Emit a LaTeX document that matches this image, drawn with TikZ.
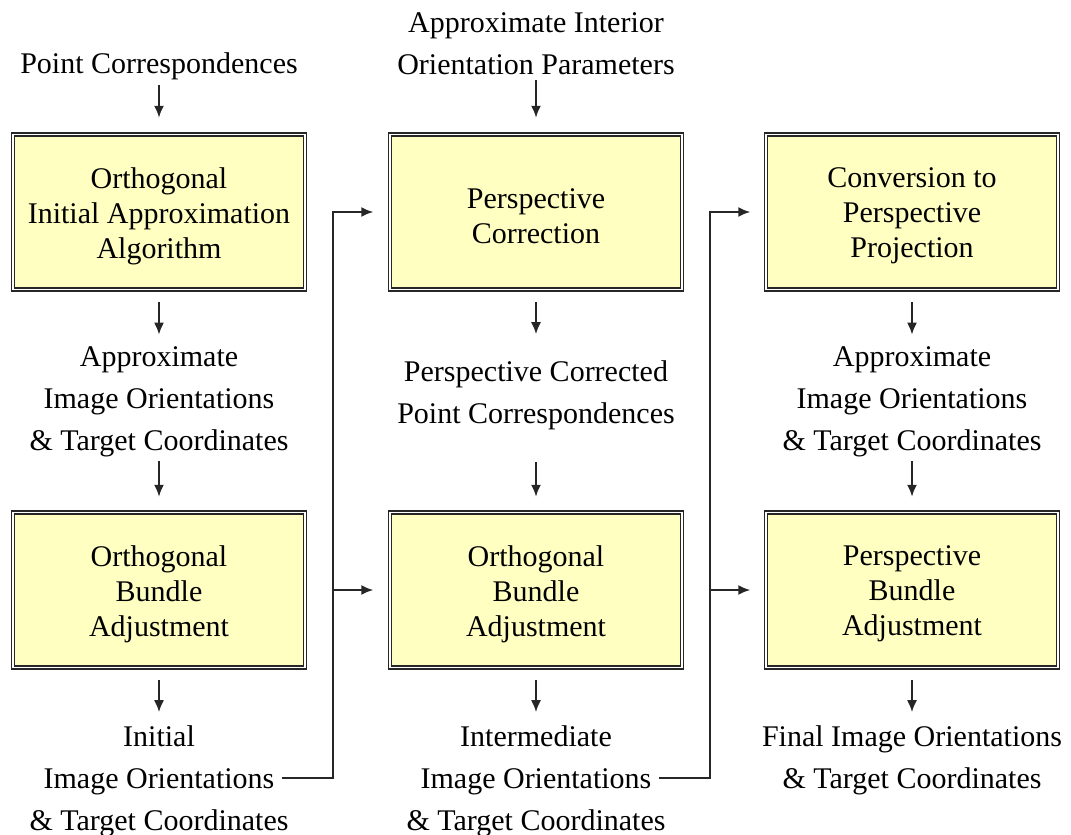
\documentclass[tikz,border=0pt]{standalone}
\usepackage{fontspec}
\setmainfont{Liberation Serif}
\usetikzlibrary{arrows.meta}
\definecolor{stagefill}{HTML}{FFFFC2}
\begin{document}
\begin{tikzpicture}[x=1pt,y=-1pt,
    stage/.style={draw=black!85, line width=1.5pt, double=white, double distance=1.4pt,
        fill=stagefill, minimum width=292pt, minimum height=155pt, inner sep=0pt},
    stagetext/.style={align=center, inner sep=0pt, yshift=-4pt, font=\fontsize{30}{35}\selectfont},
    note/.style={align=center, inner sep=0pt, font=\fontsize{30}{42}\selectfont},
    flow/.style={-{Latex[length=12pt,width=10pt]}, line width=1.8pt, draw=black!85}]
    \useasboundingbox (0,0) rectangle (1071,835);
    % inputs
    \node[note] (pts) at (159,66) {Point Correspondences};
    \node[note] (iop) at (536,44) {Approximate Interior\\Orientation Parameters};
    % first stages
    \node[stage, label={[stagetext]center:{Orthogonal\\Initial Approximation\\Algorithm}}] (ortho) at (159,212) {};
    \node[stage, label={[stagetext]center:{Perspective\\Correction}}] (persp) at (536,212) {};
    \node[stage, label={[stagetext]center:{Conversion to\\Perspective\\Projection}}] (conv) at (912,212) {};
    % intermediate data
    \node[note] (approxA) at (159,402) {Approximate\\Image Orientations\\\& Target Coordinates};
    \node[note] (pcpc) at (536,395) {Perspective Corrected\\Point Correspondences};
    \node[note] (approxB) at (912,402) {Approximate\\Image Orientations\\\& Target Coordinates};
    % bundle adjustments
    \node[stage, label={[stagetext]center:{Orthogonal\\Bundle\\Adjustment}}] (obaA) at (159,590) {};
    \node[stage, label={[stagetext]center:{Orthogonal\\Bundle\\Adjustment}}] (obaB) at (536,590) {};
    \node[stage, label={[stagetext]center:{Perspective\\Bundle\\Adjustment}}] (pba) at (912,590) {};
    % results
    \node[note] (init) at (159,781) {Initial\\Image Orientations\\\& Target Coordinates};
    \node[note] (inter) at (536,781) {Intermediate\\Image Orientations\\\& Target Coordinates};
    \node[note] (final) at (912,760) {Final Image Orientations\\\& Target Coordinates};

    \draw[flow, shorten <=5pt, shorten >=16pt] (pts) -- (ortho);
    \draw[flow, shorten <=5pt, shorten >=16pt] (iop) -- (persp);
    \draw[flow, shorten <=12pt, shorten >=12pt] (ortho) -- (approxA);
    \draw[flow, shorten <=12pt, shorten >=26pt] (persp) -- (pcpc);
    \draw[flow, shorten <=12pt, shorten >=12pt] (conv) -- (approxB);
    \draw[flow, shorten <=4pt, shorten >=15pt] (approxA) -- (obaA);
    \draw[flow, shorten <=32pt, shorten >=15pt] (pcpc) -- (obaB);
    \draw[flow, shorten <=4pt, shorten >=15pt] (approxB) -- (pba);
    \draw[flow, shorten <=12pt, shorten >=13pt] (obaA) -- (init);
    \draw[flow, shorten <=12pt, shorten >=13pt] (obaB) -- (inter);
    \draw[flow, shorten <=12pt, shorten >=13pt] (pba) -- (final);

    % feedback to the next column
    \coordinate (fbA) at ([xshift=-7pt,yshift=3pt]init.east);
    \coordinate (busA) at (333,590);
    \draw[flow, shorten >=16pt] (fbA) -| (busA) |- (persp.west);
    \draw[flow, shorten >=16pt] (busA) -- (obaB.west);
    \coordinate (fbB) at ([xshift=-7pt,yshift=3pt]inter.east);
    \coordinate (busB) at (710,590);
    \draw[flow, shorten >=15pt] (fbB) -| (busB) |- (conv.west);
    \draw[flow, shorten >=15pt] (busB) -- (pba.west);
\end{tikzpicture}
\end{document}
